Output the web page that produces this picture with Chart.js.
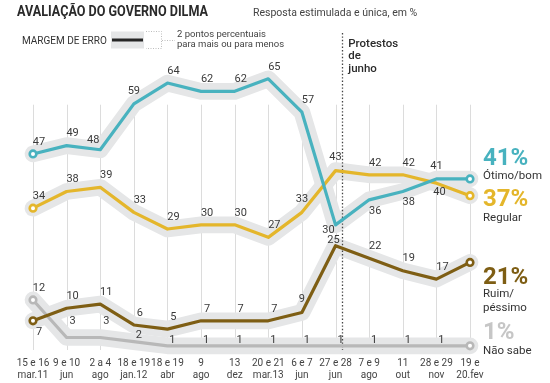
<!DOCTYPE html>
<html><head><meta charset="utf-8">
<script src="https://cdn.jsdelivr.net/npm/chart.js@4.4.1/dist/chart.umd.min.js"></script>
<style>html,body{margin:0;padding:0;background:#fff}#wrap{width:550px;height:383px;position:relative}</style>
</head><body><div id="wrap"><canvas id="c" width="550" height="383"></canvas></div>
<script>
// ---- data ----
const categories = [["15 e 16","mar.11"],["9 e 10","jun"],["2 a 4","ago"],["18 e 19","jan.12"],["18 e 19","abr"],["9","ago"],["13","dez"],["20 e 21","mar.13"],["6 e 7","jun"],["27 e 28","jun"],["7 e 9","ago"],["11","out"],["28 e 29","nov"],["19 e","20.fev"]];
const otimoBom    = [47,49,48,59,64,62,62,65,57,30,36,38,41,41];
const regular     = [34,38,39,33,29,30,30,27,33,43,42,42,40,37];
const ruimPessimo = [7,10,11,6,5,7,7,7,9,25,22,19,17,21];
const naoSabe     = [12,3,3,2,1,1,1,1,1,1,1,1,1,1];
const marginOfError = 2;          // percentage points, +/-
const protestPosition = 9.2;      // category index of the "Protestos de junho" marker

// ---- label placement (styling, not data) ----
const OFF = {ne:[6,-12], n:[0,-13], nw:[-7,-10], se:[6,11], s:[3,9], sw:[-7,5], nl:[-2,-5], hi:[6,-16], lo:[5,-6], x:null};
const otimoPlace   = ['ne','ne','nw','n','ne','ne','ne','ne','ne','sw','se','se','n','x'];
const regularPlace = ['ne','ne','ne','ne','ne','ne','ne','ne','n','n','ne','ne','s','x'];
const ruimPlace    = ['se','ne','ne','ne','ne','ne','ne','ne','n','nl','ne','ne','ne','x'];
const naoPlace     = ['ne','hi','hi','lo','lo','lo','lo','lo','lo','lo','lo','lo','lo','x'];

const C_TEAL='#48b2bf', C_GOLD='#e4b62b', C_BROWN='#7e5e14', C_GRAY='#b8b8b8', C_BAND='#e5e6e7';
const FONT='Roboto, "Noto Sans", sans-serif';

const series = [
  {data: otimoBom,    color: C_TEAL,  place: otimoPlace,   order: 1, big:'41%', bigColor:C_TEAL, names:['Ótimo/bom'], bigDy:-20, nameDy:[-3]},
  {data: regular,     color: C_GOLD,  place: regularPlace, order: 2, big:'37%', bigColor:C_GOLD, names:['Regular'], bigDy:4.5, nameDy:[22.5]},
  {data: ruimPessimo, color: C_BROWN, place: ruimPlace,    order: 3, big:'21%', bigColor:C_BROWN, names:['Ruim/','péssimo'], bigDy:16, nameDy:[32,46]},
  {data: naoSabe,     color: C_GRAY,  place: naoPlace,     order: 4, big:'1%',  bigColor:'#c6c6c6', names:['Não sabe'], bigDy:-13, nameDy:[5]}
];

function bandWidth(ctx){
  const y = ctx.chart.scales && ctx.chart.scales.y;
  if (!y || !isFinite(y.getPixelForValue(0))) return 17;
  return Math.abs(y.getPixelForValue(0) - y.getPixelForValue(2*marginOfError));
}

const datasets = [];
series.forEach(s => {
  datasets.push({data: s.data, borderColor: C_BAND, borderWidth: bandWidth, pointRadius: 0,
    borderCapStyle:'round', borderJoinStyle:'round', tension:0, order: 10, clip:false, isBand:true});
});
series.forEach(s => {
  const n = s.data.length;
  datasets.push({data: s.data, borderColor: s.color, borderWidth: 3.2, tension:0, order: s.order, clip:false,
    borderJoinStyle:'round',
    pointRadius: c => (c.dataIndex===0 || c.dataIndex===n-1) ? 3.3 : 0,
    pointBackgroundColor:'#fff', pointBorderColor: s.color, pointBorderWidth: 2.6});
});

let dottedDrawn = false;
const decor = {
  id:'decor',
  beforeDraw(chart){ dottedDrawn = false; },
  beforeDatasetsDraw(chart){
    const {ctx, scales:{x,y}, chartArea} = chart;
    ctx.save();
    ctx.strokeStyle = '#dcdcdc'; ctx.lineWidth = 1;
    const top = y.getPixelForValue(58.8);
    categories.forEach((c,i)=>{
      const px = Math.round(x.getPixelForValue(i))+0.5;
      ctx.beginPath(); ctx.moveTo(px, top); ctx.lineTo(px, chartArea.bottom); ctx.stroke();
    });
    ctx.restore();
  },
  beforeDatasetDraw(chart, args){
    if (dottedDrawn) return;
    const ds = chart.data.datasets[args.index];
    if (ds.isBand) return;
    dottedDrawn = true;
    const {ctx, scales:{x}, chartArea} = chart;
    const px = Math.round(x.getPixelForValue(protestPosition))+0.5;
    ctx.save();
    ctx.strokeStyle = '#444'; ctx.lineWidth = 1.3; ctx.setLineDash([1.4,2]);
    ctx.beginPath(); ctx.moveTo(px, 33); ctx.lineTo(px, chartArea.bottom); ctx.stroke();
    ctx.restore();
  },
  afterDatasetsDraw(chart){
    const {ctx, scales:{x,y}} = chart;
    ctx.save();
    // value labels
    ctx.font = '11px '+FONT; ctx.fillStyle = '#3a3a3a'; ctx.textAlign='center'; ctx.textBaseline='middle';
    series.forEach(s=>{
      s.data.forEach((v,i)=>{
        const o = OFF[s.place[i]]; if (!o) return;
        ctx.fillText(String(v), x.getPixelForValue(i)+o[0], y.getPixelForValue(v)+o[1]);
      });
    });
    // right-hand labels
    const rx = x.getPixelForValue(categories.length-1) + 13;
    ctx.textAlign='left';
    series.forEach(s=>{
      const ly = y.getPixelForValue(s.data[s.data.length-1]);
      ctx.font = 'bold 24px '+FONT; ctx.fillStyle = s.bigColor;
      ctx.fillText(s.big, rx, ly + s.bigDy);
      ctx.font = '11.5px '+FONT; ctx.fillStyle = '#333';
      s.names.forEach((t,k)=> ctx.fillText(t, rx, ly + s.nameDy[k]));
    });
    // protest text
    const ppx = x.getPixelForValue(protestPosition) + 6;
    ctx.font = '500 11.5px '+FONT; ctx.fillStyle='#2a2a2a';
    ['Protestos','de','junho'].forEach((t,k)=>ctx.fillText(t, ppx, 44 + k*12.5));
    // title
    ctx.font = 'bold 14px '+FONT; ctx.fillStyle='#2a2a2a';
    const title = 'AVALIAÇÃO DO GOVERNO DILMA';
    const tw = ctx.measureText(title).width;
    ctx.save(); ctx.translate(17, 12); ctx.scale(Math.min(1, 191/tw), 1); ctx.fillText(title, 0, 0); ctx.restore();
    // subtitle
    ctx.font = '10.5px '+FONT; ctx.fillStyle='#444';
    ctx.fillText('Resposta estimulada e única, em %', 253, 13);
    // legend
    ctx.font = '10px '+FONT; ctx.fillStyle='#333';
    ctx.fillText('MARGEM DE ERRO', 22, 41);
    ctx.fillStyle = C_BAND; ctx.fillRect(111, 31.5, 33, 17);
    ctx.strokeStyle = '#262626'; ctx.lineWidth = 3;
    ctx.beginPath(); ctx.moveTo(112, 40); ctx.lineTo(143, 40); ctx.stroke();
    ctx.strokeStyle = '#bdbdbd'; ctx.lineWidth = 1; ctx.setLineDash([1,1.5]);
    ctx.beginPath();
    ctx.moveTo(146, 31.5); ctx.lineTo(161.5, 31.5); ctx.lineTo(161.5, 48.5); ctx.lineTo(146, 48.5);
    ctx.moveTo(162, 40.5); ctx.lineTo(175, 40.5);
    ctx.stroke(); ctx.setLineDash([]);
    ctx.font = '9.5px '+FONT; ctx.fillStyle='#444';
    ctx.fillText('2 pontos percentuais', 177, 35);
    ctx.fillText('para mais ou para menos', 177, 45);
    ctx.restore();
  }
};

new Chart(document.getElementById('c'), {
  type:'line',
  data:{labels: categories, datasets},
  options:{
    responsive:false, animation:false, devicePixelRatio:1,
    layout:{padding:{left:33, right:80, top:58, bottom:-5}},
    plugins:{legend:{display:false}, tooltip:{enabled:false}, title:{display:false}},
    scales:{
      x:{offset:false, grid:{display:false, drawTicks:false}, border:{display:false},
         ticks:{autoSkip:false, maxRotation:0, padding:7, color:'#444', font:{family:FONT, size:10, lineHeight:1.2}}},
      y:{display:false, min:0, max:70}
    }
  },
  plugins:[decor]
});
</script>
</body></html>
